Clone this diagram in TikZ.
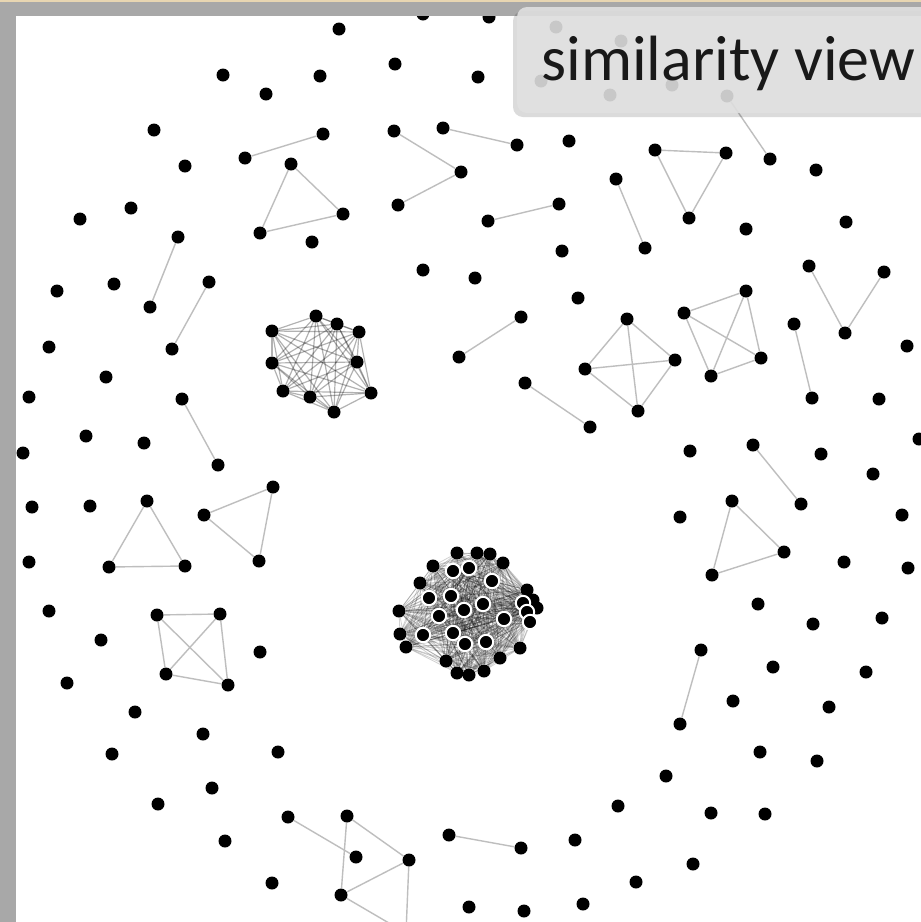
\documentclass[tikz,border=0pt]{standalone}
\usepackage{fontspec}
\usepackage{xcolor}
\usepackage{tikz}
\newfontfamily\viewfont{Carlito}
\definecolor{framegray}{RGB}{168,168,168}
\definecolor{framesand}{RGB}{232,214,178}
\definecolor{linkgray}{RGB}{190,190,190}
\definecolor{panelgray}{RGB}{225,225,225}
\pgfdeclarelayer{links}
\pgfsetlayers{links,main}

\begin{document}
\begin{tikzpicture}[x=0.5pt, y=-0.5pt,
    dot/.style={circle, fill=black, inner sep=0pt, minimum size=6.5pt},
    ringdot/.style={circle, fill=black, draw=white, line width=1pt, inner sep=0pt, minimum size=7.2pt},
    link/.style={draw=linkgray, line width=0.7pt},
    hexlink/.style={draw=black, draw opacity=0.3, line width=0.6pt},
    corelink/.style={draw=black, draw opacity=0.18, line width=0.4pt}]
    \useasboundingbox (0,0) rectangle (921,922);

    % White canvas
    \begin{pgfonlayer}{links}
        \fill[white] (0,0) rectangle (921,922);
    \end{pgfonlayer}

    % Isolated documents
    \foreach \x/\y [count=\i] in {339/29, 423/14, 489/17, 223/75, 320/76, 266/94, 395/64, 478/77,
        154/130, 185/166, 131/208, 80/219, 312/242, 114/284, 57/291, 423/270, 569/141, 816/170,
        562/251, 746/229, 846/222, 475/278, 578/298, 907/346, 879/399, 919/439, 690/451, 821/454,
        873/474, 680/517, 902/515, 844/562, 908/568, 758/604, 49/347, 106/377, 29/397, 86/436,
        144/443, 23/453, 32/507, 90/506, 29/562, 49/611, 101/640, 260/652, 67/683, 135/712,
        203/734, 112/754, 278/752, 212/788, 158/804, 225/841, 272/883, 773/667, 733/701, 813/624,
        882/618, 866/672, 829/707, 760/752, 817/761, 666/776, 618/806, 711/813, 765/814, 575/840,
        693/864, 636/882, 469/907, 524/911, 583/904, 556/27, 621/41, 541/81, 672/85, 610/95}
        \node[dot] (s\i) at (\x,\y) {};

    % Pairs
    \foreach \ax/\ay/\bx/\by [count=\i] in {245/158/323/134, 178/237/150/307, 209/282/172/349,
        443/128/517/145, 488/221/559/204, 616/179/645/248, 727/96/770/159, 459/357/521/317,
        525/383/590/427, 794/324/812/398, 753/445/801/504, 182/399/218/465, 701/650/680/724,
        449/835/521/848, 288/817/356/857}
    {
        \node[dot] (pa\i) at (\ax,\ay) {};
        \node[dot] (pb\i) at (\bx,\by) {};
    }

    % Chains of three
    \foreach \ax/\ay/\bx/\by/\cx/\cy [count=\i] in {394/131/461/172/398/205, 809/266/845/333/884/272}
    {
        \node[dot] (va\i) at (\ax,\ay) {};
        \node[dot] (vb\i) at (\bx,\by) {};
        \node[dot] (vc\i) at (\cx,\cy) {};
    }

    % Triangles
    \foreach \ax/\ay/\bx/\by/\cx/\cy [count=\i] in {291/164/343/214/260/233, 655/150/726/153/689/218,
        147/501/109/567/185/566, 204/515/273/487/259/561, 732/501/784/552/712/575}
    {
        \node[dot] (ta\i) at (\ax,\ay) {};
        \node[dot] (tb\i) at (\bx,\by) {};
        \node[dot] (tc\i) at (\cx,\cy) {};
    }

    % Groups of four
    \foreach \ax/\ay/\bx/\by/\cx/\cy/\dx/\dy [count=\i] in {627/319/585/369/675/360/638/411,
        684/313/746/291/761/358/711/376, 157/615/220/614/166/674/228/685}
    {
        \node[dot] (qa\i) at (\ax,\ay) {};
        \node[dot] (qb\i) at (\bx,\by) {};
        \node[dot] (qc\i) at (\cx,\cy) {};
        \node[dot] (qd\i) at (\dx,\dy) {};
    }
    \node[dot] (g1) at (347,816) {};
    \node[dot] (g2) at (409,860) {};
    \node[dot] (g3) at (341,895) {};
    \node[dot] (g4) at (406,933) {};

    % Small dense cluster
    \foreach \x/\y [count=\i] in {272/331, 316/316, 337/324, 359/332, 272/363, 357/362,
        371/393, 283/391, 310/397, 334/412}
        \node[dot] (h\i) at (\x,\y) {};

    % Large dense cluster: rim first, then the ringed core
    \foreach \x/\y [count=\i] in {457/553, 477/553, 490/554, 503/563, 433/566, 420/583, 527/590,
        533/600, 537/608, 399/611, 400/634, 406/647, 520/648, 500/658, 446/661, 457/673,
        469/675, 484/671}
        \node[dot] (c\i) at (\x,\y) {};
    \foreach \x/\y [count=\i from 19] in {453/571, 469/568, 492/581, 429/598, 451/596, 464/610,
        483/604, 439/616, 504/619, 523/603, 527/612, 530/622, 423/635, 453/633, 465/644, 486/642}
        \node[ringdot] (c\i) at (\x,\y) {};

    % Similarity links
    \begin{pgfonlayer}{links}
        \foreach \i in {1,...,15} \draw[link] (pa\i) -- (pb\i);
        \foreach \i in {1,2} \draw[link] (va\i) -- (vb\i) -- (vc\i);
        \foreach \i in {1,...,5} \draw[link] (ta\i) -- (tb\i) -- (tc\i) -- (ta\i);
        \foreach \i in {1,2,3} {
            \draw[link] (qa\i) -- (qb\i) -- (qd\i) -- (qc\i) -- (qa\i);
            \draw[link] (qa\i) -- (qd\i);
            \draw[link] (qb\i) -- (qc\i);
        }
        \draw[link] (g1) -- (g2) -- (g3) -- (g1);
        \draw[link] (g2) -- (g4) -- (g3);
        \foreach \i in {1,...,10}
            \foreach \j in {1,...,10}
                {\ifnum\i<\j \draw[hexlink] (h\i) -- (h\j);\fi}
        \foreach \i in {1,...,34}
            \foreach \j in {1,...,34}
                {\ifnum\i<\j \draw[corelink] (c\i) -- (c\j);\fi}
    \end{pgfonlayer}

    % Window frame
    \fill[framegray] (0,0) rectangle (921,16);
    \fill[framegray] (0,0) rectangle (16,922);
    \fill[framesand] (0,0) rectangle (921,1.5);

    % Title panel
    \fill[black, opacity=0.14, rounded corners=5pt] (513,11) rectangle (935,117);
    \fill[panelgray, opacity=0.89, rounded corners=5pt] (517,7) rectangle (935,113);
    \node[anchor=base west, inner sep=0pt, text=black!90, font=\viewfont\fontsize{32pt}{36pt}\selectfont]
        (title) at (541,80) {similarity view};
\end{tikzpicture}
\end{document}
